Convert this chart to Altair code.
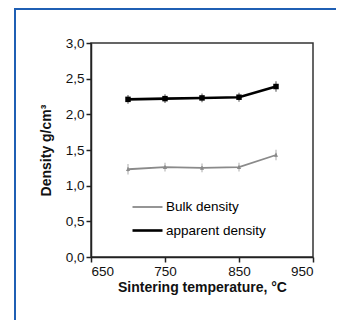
import altair as alt
import pandas as pd

temps = [700, 750, 800, 850, 900]
bulk = [1.23, 1.26, 1.25, 1.26, 1.43]
bulk_err = [0.03, 0.02, 0.02, 0.02, 0.03]
apparent = [2.21, 2.22, 2.23, 2.24, 2.39]
apparent_err = [0.02, 0.02, 0.02, 0.02, 0.03]
series = ["Bulk density", "apparent density"]
colors = ["#8a8a8a", "#000000"]
x_ticks = [650, 750, 850, 950]
y_ticks = [0.0, 0.5, 1.0, 1.5, 2.0, 2.5, 3.0]

rows = []
for t, v, e in zip(temps, bulk, bulk_err):
    rows.append({"T": t, "D": v, "lo": v - e, "hi": v + e, "s": series[0]})
for t, v, e in zip(temps, apparent, apparent_err):
    rows.append({"T": t, "D": v, "lo": v - e, "hi": v + e, "s": series[1]})
df = pd.DataFrame(rows)

xscale = alt.Scale(domain=[650, 950], nice=False)
yscale = alt.Scale(domain=[0, 3], nice=False)
xaxis = alt.Axis(values=x_ticks, title="Sintering temperature, °C", grid=False,
                 labelFontSize=13.5, titleFontSize=14, titleFontWeight="bold",
                 titlePadding=3, labelPadding=2, tickSize=5, labelOverlap=False)
yaxis = alt.Axis(values=y_ticks, title="Density g/cm³", grid=False,
                 labelExpr="replace(format(datum.value, '.1f'), '.', ',')",
                 labelFontSize=13.5, titleFontSize=14, titleFontWeight="bold",
                 titlePadding=12, labelPadding=2, tickSize=5, labelOverlap=False)

def X(f):
    return alt.X(f, scale=xscale, axis=xaxis, title="Sintering temperature, °C")

def Y(f):
    return alt.Y(f, scale=yscale, axis=yaxis, title="Density g/cm³")

cscale = alt.Scale(domain=series, range=colors)
col = alt.Color("s:N", scale=cscale,
                legend=alt.Legend(title=None, orient="none", legendX=40, legendY=148,
                                  symbolType="stroke", symbolSize=900, symbolStrokeWidth=2,
                                  labelFontSize=13.5, labelColor="black", rowPadding=0,
                                  padding=0, labelOffset=2))
col_nl = alt.Color("s:N", scale=cscale, legend=None)

base = alt.Chart(df)
lines = base.mark_line().encode(x=X("T:Q"), y=Y("D:Q"), color=col,
                                strokeWidth=alt.StrokeWidth("s:N", scale=alt.Scale(domain=series, range=[1.8, 2.6]), legend=None))
pts_b = base.transform_filter(alt.datum.s == series[0]).mark_point(shape="triangle-up", filled=True, size=18, opacity=1).encode(x=X("T:Q"), y=Y("D:Q"), color=col_nl)
pts_a = base.transform_filter(alt.datum.s == series[1]).mark_point(shape="square", filled=True, size=30, opacity=1).encode(x=X("T:Q"), y=Y("D:Q"), color=col_nl)
err = base.mark_rule(strokeWidth=1).encode(x=X("T:Q"), y=Y("lo:Q"), y2="hi:Q", color=col_nl)
cap_lo = base.mark_tick(thickness=1, size=6).encode(x=X("T:Q"), y=Y("lo:Q"), color=col_nl)
cap_hi = base.mark_tick(thickness=1, size=6).encode(x=X("T:Q"), y=Y("hi:Q"), color=col_nl)

frame = alt.Chart(pd.DataFrame({"k": [0]})).mark_rect(fill=None, stroke="#1f5fb4", strokeWidth=2).encode(
    x=alt.value(-76), x2=alt.value(400), y=alt.value(-34), y2=alt.value(400))

chart = alt.layer(frame, lines, err, cap_lo, cap_hi, pts_b, pts_a).properties(
    width=222, height=214,
    autosize=alt.AutoSizeParams(type="none"),
    padding={"left": 83, "top": 35, "right": 23, "bottom": 63},
).configure_view(stroke="#333333", strokeWidth=1.5).configure_axis(
    domainColor="#222222", domainWidth=1.5, tickColor="#222222", tickWidth=1.5,
    labelColor="#111111", titleColor="#111111", labelFont="Liberation Sans", titleFont="Liberation Sans"
).configure_legend(labelFont="Liberation Sans")

chart.save("out.html", embed_options={"renderer": "svg", "actions": False})
